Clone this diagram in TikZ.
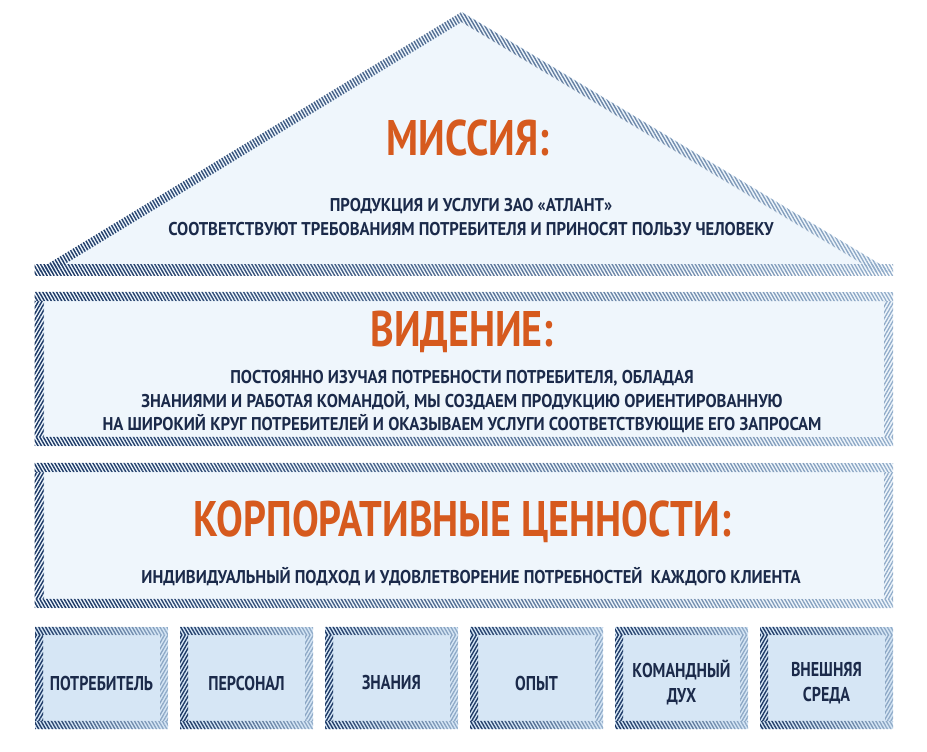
\documentclass[tikz,border=0pt]{standalone}
\usepackage{fontspec}
\setmainfont{PT Sans}
\newfontfamily\narrowfont[FakeStretch=0.8]{PT Sans}
\newfontfamily\bodyfont[FakeStretch=0.9]{PT Sans}
\usetikzlibrary{patterns.meta,fadings}

\definecolor{hatchdark}{HTML}{1C3763}
\definecolor{hatchlite}{HTML}{93AECB}
\definecolor{bandfill}{HTML}{EFF6FC}
\definecolor{cellfill}{HTML}{D6E6F5}
\definecolor{titlecol}{HTML}{D65A1E}
\definecolor{textcol}{HTML}{1B2A4A}

\tikzfading[name=fadeside, left color=transparent!0, right color=transparent!100]

\tikzset{
	hatchh/.style={pattern={Lines[angle=-60,distance=3pt,line width=1.3pt]}},
	hatchv/.style={pattern={Lines[angle=60,distance=3pt,line width=1.3pt]}},
	heading/.style={font=\narrowfont\bfseries\fontsize{50}{50}\selectfont, text=titlecol},
	body/.style={font=\bodyfont\bfseries\fontsize{18.5}{23.5}\selectfont, text=textcol, align=center},
	cell/.style={font=\narrowfont\bfseries\fontsize{20}{25}\selectfont, text=textcol, align=center}
}

% x1, y1, x2, y2, border, fill
\newcommand{\hatchbox}[6]{%
	\fill[#6] (#1,#2) rectangle (#3,#4);
	\fill[hatchh, pattern color=hatchlite] (#1,#2) rectangle (#3,#2+#5) (#1,#4-#5) rectangle (#3,#4);
	\fill[hatchh, pattern color=hatchdark, path fading=fadeside] (#1,#2) rectangle (#3,#2+#5) (#1,#4-#5) rectangle (#3,#4);
	\fill[hatchv, pattern color=hatchlite] (#1,#2+#5) rectangle (#1+#5,#4-#5) (#3-#5,#2+#5) rectangle (#3,#4-#5);
	\fill[hatchv, pattern color=hatchdark, path fading=fadeside] (#1,#2+#5) rectangle (#1+#5,#4-#5) (#3-#5,#2+#5) rectangle (#3,#4-#5);
}

\begin{document}
\begin{tikzpicture}[x=1pt, y=-1pt]
	\useasboundingbox[fill=white] (0,0) rectangle (927,752);

	\fill[bandfill] (35,272) -- (462,12) -- (893,272) -- cycle;
	\fill[hatchh, pattern color=hatchlite, even odd rule] (35,272) -- (462,12) -- (893,272) -- cycle (52,272) -- (462,22) -- (876,272) -- cycle;
	\fill[hatchh, pattern color=hatchdark, even odd rule, path fading=fadeside] (35,272) -- (462,12) -- (893,272) -- cycle (52,272) -- (462,22) -- (876,272) -- cycle;
	\fill[hatchh, pattern color=hatchlite] (35,264) rectangle (893,275);
	\fill[hatchh, pattern color=hatchdark, path fading=fadeside] (35,264) rectangle (893,275);

	\hatchbox{35}{292}{893}{446}{9}{bandfill}
	\hatchbox{35}{463}{893}{608}{9}{bandfill}

	\node[heading] (mission) at (468,138) {МИССИЯ:};
	\node[body] (missiontext) at (471,217) {ПРОДУКЦИЯ И УСЛУГИ ЗАО «АТЛАНТ»\\СООТВЕТСТВУЮТ ТРЕБОВАНИЯМ ПОТРЕБИТЕЛЯ И ПРИНОСЯТ ПОЛЬЗУ ЧЕЛОВЕКУ};

	\node[heading] (vision) at (462,332) {ВИДЕНИЕ:};
	\node[body] (visiontext) at (462,402) {ПОСТОЯННО ИЗУЧАЯ ПОТРЕБНОСТИ ПОТРЕБИТЕЛЯ, ОБЛАДАЯ\\ЗНАНИЯМИ И РАБОТАЯ КОМАНДОЙ, МЫ СОЗДАЕМ ПРОДУКЦИЮ ОРИЕНТИРОВАННУЮ\\НА ШИРОКИЙ КРУГ ПОТРЕБИТЕЛЕЙ И ОКАЗЫВАЕМ УСЛУГИ СООТВЕТСТВУЮЩИЕ ЕГО ЗАПРОСАМ};

	\node[heading] (values) at (462,522) {КОРПОРАТИВНЫЕ ЦЕННОСТИ:};
	\node[body] (valuestext) at (471,577) {ИНДИВИДУАЛЬНЫЙ ПОДХОД И УДОВЛЕТВОРЕНИЕ ПОТРЕБНОСТЕЙ\ \ КАЖДОГО КЛИЕНТА};

	\foreach \cx/\cname/\clabel in {35/consumer/ПОТРЕБИТЕЛЬ, 180/staff/ПЕРСОНАЛ, 325/knowledge/ЗНАНИЯ, 470/experience/ОПЫТ, 615/team/{КОМАНДНЫЙ\\ДУХ}, 760/environment/{ВНЕШНЯЯ\\СРЕДА}} {
		\hatchbox{\cx}{627}{\cx+133}{729}{8}{cellfill}
		\node[cell] (\cname) at (\cx+66.5,683) {\clabel};
	}
\end{tikzpicture}
\end{document}
